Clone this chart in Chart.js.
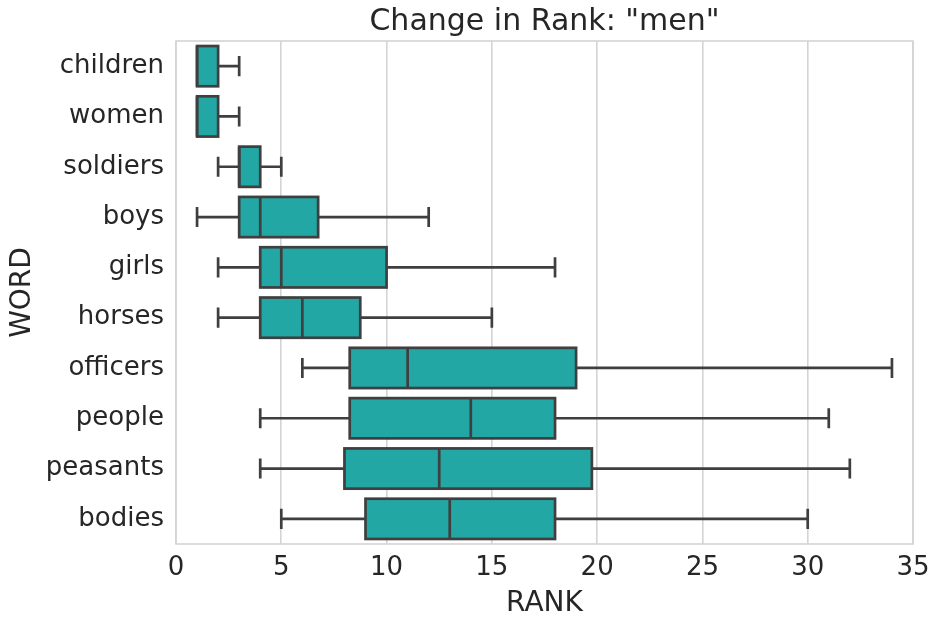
<!DOCTYPE html>
<html>
<head>
<meta charset="utf-8">
<script src="https://cdn.jsdelivr.net/npm/chart.js@4/dist/chart.umd.min.js"></script>
<style>
  html, body { margin: 0; padding: 0; background: #ffffff; }
  #wrap { width: 933px; height: 617px; }
</style>
</head>
<body>
<div id="wrap"><canvas id="c" width="933" height="617"></canvas></div>
<script>
// Rank distribution of words near "men"
const words       = ['children', 'women', 'soldiers', 'boys', 'girls', 'horses', 'officers', 'people', 'peasants', 'bodies'];
const whiskerLow  = [1, 1, 2, 1,    2,  2,    6,    4,    4,     5];
const quartile1   = [1, 1, 3, 3,    4,  4,    8.25, 8.25, 8,     9];
const medians     = [1, 1, 3, 4,    5,  6,    11,   14,   12.5,  13];
const quartile3   = [2, 2, 4, 6.75, 10, 8.75, 19,   18,   19.75, 18];
const whiskerHigh = [3, 3, 5, 12,   18, 15,   34,   31,   32,    30];
const rankTicks   = [0, 5, 10, 15, 20, 25, 30, 35];

const FONT = "'DejaVu Sans', sans-serif";
const TEXT = '#262626';
const EDGE = '#3f3f3f';
const GRID = '#d4d4d4';

// Light frame round the plot area, drawn under the boxes
const plotFrame = {
  id: 'plotFrame',
  beforeDatasetsDraw(chart) {
    const { ctx, chartArea: a } = chart;
    ctx.save();
    ctx.strokeStyle = GRID;
    ctx.lineWidth = 1.6;
    ctx.strokeRect(a.left, a.top, a.right - a.left, a.bottom - a.top);
    ctx.restore();
  }
};

// Box outlines, medians and whiskers, placed with the chart's scales
const boxPlotLines = {
  id: 'boxPlotLines',
  afterDatasetsDraw(chart) {
    const ctx = chart.ctx;
    const xs = chart.scales.x;
    const meta = chart.getDatasetMeta(0);
    ctx.save();
    ctx.strokeStyle = EDGE;
    ctx.lineWidth = 2.7;
    ctx.lineJoin = 'miter';
    meta.data.forEach((bar, i) => {
      const { y, height } = bar.getProps(['y', 'height'], true);
      const top = y - height / 2;
      const bottom = y + height / 2;
      const x1 = xs.getPixelForValue(quartile1[i]);
      const x3 = xs.getPixelForValue(quartile3[i]);
      const xm = xs.getPixelForValue(medians[i]);
      const xlo = xs.getPixelForValue(whiskerLow[i]);
      const xhi = xs.getPixelForValue(whiskerHigh[i]);
      const cap = height / 4;

      ctx.lineCap = 'butt';
      ctx.beginPath();
      // whiskers
      if (xlo < x1) { ctx.moveTo(xlo, y); ctx.lineTo(x1, y); }
      if (xhi > x3) { ctx.moveTo(x3, y); ctx.lineTo(xhi, y); }
      // caps
      ctx.moveTo(xlo, y - cap); ctx.lineTo(xlo, y + cap);
      ctx.moveTo(xhi, y - cap); ctx.lineTo(xhi, y + cap);
      // median
      ctx.moveTo(xm, top); ctx.lineTo(xm, bottom);
      ctx.stroke();

      ctx.strokeRect(x1, top, x3 - x1, bottom - top);
    });
    ctx.restore();
  }
};

new Chart(document.getElementById('c'), {
  type: 'bar',
  data: {
    labels: words,
    datasets: [{
      data: words.map((w, i) => [quartile1[i], quartile3[i]]),
      backgroundColor: '#22a7a5',
      borderWidth: 0,
      categoryPercentage: 0.8,
      barPercentage: 1.0
    }]
  },
  options: {
    indexAxis: 'y',
    responsive: false,
    animation: false,
    devicePixelRatio: 1,
    layout: { padding: { left: 0, right: 20, top: 0, bottom: 0 } },
    plugins: {
      legend: { display: false },
      tooltip: { enabled: false },
      title: {
        display: true,
        text: 'Change in Rank: "men"',
        fullSize: false,
        color: TEXT,
        font: { family: FONT, size: 30, weight: 'normal', lineHeight: 1.2 },
        padding: { top: 4, bottom: 1 }
      }
    },
    scales: {
      x: {
        type: 'linear',
        min: 0,
        max: 35,
        afterBuildTicks: s => { s.ticks = rankTicks.map(v => ({ value: v })); },
        afterFit: s => { s.height = 73; s.paddingLeft = 0; s.paddingRight = 0; },
        grid: { color: GRID, lineWidth: 1.6, drawTicks: false },
        border: { display: false },
        ticks: { color: TEXT, padding: 9, font: { family: FONT, size: 26 } },
        title: {
          display: true,
          text: 'RANK',
          color: TEXT,
          font: { family: FONT, size: 28, lineHeight: 1.0 },
          padding: { top: 0, bottom: -1 }
        }
      },
      y: {
        type: 'category',
        afterFit: s => { s.width = 176; s.paddingTop = 0; s.paddingBottom = 0; },
        grid: { display: false, drawTicks: false },
        border: { display: false },
        ticks: { color: TEXT, padding: 12, font: { family: FONT, size: 26 } },
        title: {
          display: true,
          text: 'WORD',
          color: TEXT,
          font: { family: FONT, size: 28, lineHeight: 1.2 },
          padding: { top: 6, bottom: 0 }
        }
      }
    }
  },
  plugins: [plotFrame, boxPlotLines]
});
</script>
</body>
</html>
